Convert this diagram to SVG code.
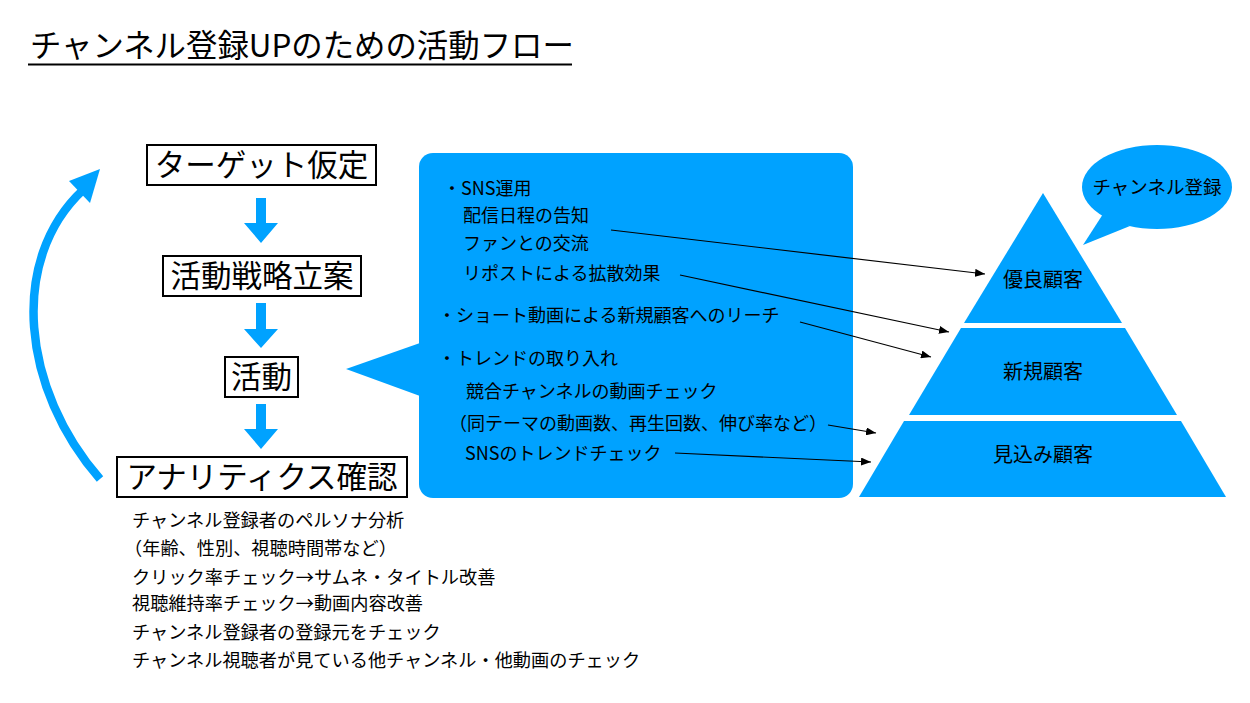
<svg xmlns="http://www.w3.org/2000/svg" width="1250" height="703" viewBox="0 0 1250 703">
<defs>
<style>
text{font-family:"Noto Sans CJK JP","Noto Sans",sans-serif;fill:#000}
.box{fill:#fff;stroke:#000;stroke-width:2}
.lbl{font-size:30.5px;text-anchor:middle}
.blue{fill:#00A2FF}
.t18{font-size:18px}
.n18{font-size:18.2px}
.conn{stroke:#000;stroke-width:1.2;fill:none;marker-end:url(#ah)}
.pl{font-size:20px;text-anchor:middle}
</style>
<marker id="ah" viewBox="0 0 10 8" refX="10" refY="4" markerWidth="10" markerHeight="8" markerUnits="userSpaceOnUse" orient="auto">
<path d="M0,0 L10,4 L0,8 z" fill="#000"/>
</marker>
</defs>
<rect width="1250" height="703" fill="#fff"/>

<g id="title">
<text x="30" y="57" style="font-size:31.4px">チャンネル登録UPのための活動フロー</text>
<line x1="28" y1="64.5" x2="572" y2="64.5" stroke="#000" stroke-width="2"/>
</g>

<g id="node-target">
<rect class="box" x="147" y="145" width="229" height="40"/>
<text class="lbl" x="261.5" y="176">ターゲット仮定</text>
</g>
<g id="node-strategy">
<rect class="box" x="163" y="256" width="198" height="40"/>
<text class="lbl" x="262" y="287">活動戦略立案</text>
</g>
<g id="node-activity">
<rect class="box" x="225" y="357" width="73" height="40"/>
<text class="lbl" x="261.5" y="388">活動</text>
</g>
<g id="node-analytics">
<rect class="box" x="117" y="457" width="290" height="40"/>
<text class="lbl" x="262" y="488">アナリティクス確認</text>
</g>

<g id="callout">
<rect class="blue" x="419" y="153" width="434" height="345" rx="14"/>
<polygon class="blue" points="346,369 420,343 420,396"/>
<text class="t18" x="443" y="195">・SNS運用</text>
<text class="t18" x="463" y="222">配信日程の告知</text>
<text class="t18" x="463" y="250">ファンとの交流</text>
<text class="t18" x="463" y="280">リポストによる拡散効果</text>
<text class="t18" x="438" y="322">・ショート動画による新規顧客へのリーチ</text>
<text class="t18" x="438" y="365">・トレンドの取り入れ</text>
<text class="t18" x="466" y="398">競合チャンネルの動画チェック</text>
<text class="t18" x="449" y="430">（同テーマの動画数、再生回数、伸び率など）</text>
<text class="t18" x="465" y="460">SNSのトレンドチェック</text>
</g>

<g id="pyramid-top">
<polygon class="blue" points="1043,193 1122,323 964,323"/>
<text class="pl" x="1043" y="287">優良顧客</text>
</g>
<g id="pyramid-middle">
<polygon class="blue" points="961,328 1125,328 1177,415 909,415"/>
<text class="pl" x="1043" y="379">新規顧客</text>
</g>
<g id="pyramid-bottom">
<polygon class="blue" points="904,421 1181,421 1226,497 859,497"/>
<text class="pl" x="1043" y="462">見込み顧客</text>
</g>

<g id="bubble">
<ellipse class="blue" cx="1157" cy="187" rx="75" ry="42"/>
<polygon class="blue" points="1103,214 1130,226 1083,245"/>
<text x="1157" y="194" style="font-size:18.5px;text-anchor:middle">チャンネル登録</text>
</g>

<g id="analytics-notes">
<text class="n18" x="132" y="527">チャンネル登録者のペルソナ分析</text>
<text class="n18" x="124" y="555">（年齢、性別、視聴時間帯など）</text>
<text class="n18" x="132" y="584">クリック率チェック→サムネ・タイトル改善</text>
<text class="n18" x="132" y="610">視聴維持率チェック→動画内容改善</text>
<text class="n18" x="132" y="639">チャンネル登録者の登録元をチェック</text>
<text class="n18" x="132" y="667">チャンネル視聴者が見ている他チャンネル・他動画のチェック</text>
</g>

<g id="connectors">
<polygon class="blue" points="256,198 266,198 266,223 278,223 261,243 244,223 256,223"/>
<polygon class="blue" points="256,303 266,303 266,329 278,329 261,348 244,329 256,329"/>
<polygon class="blue" points="256,404 266,404 266,429 278,429 261,449 244,429 256,429"/>
<path d="M100,479 C22,390 8,260 83,190" stroke="#00A2FF" stroke-width="8.5" fill="none"/>
<polygon class="blue" points="100,169 69,181 90,203"/>
<line class="conn" x1="611" y1="230" x2="985" y2="274"/>
<line class="conn" x1="680" y1="275" x2="949" y2="332"/>
<line class="conn" x1="800" y1="322" x2="931" y2="357"/>
<line class="conn" x1="828" y1="425" x2="876" y2="433"/>
<line class="conn" x1="675" y1="453" x2="871" y2="462"/>
</g>
</svg>
